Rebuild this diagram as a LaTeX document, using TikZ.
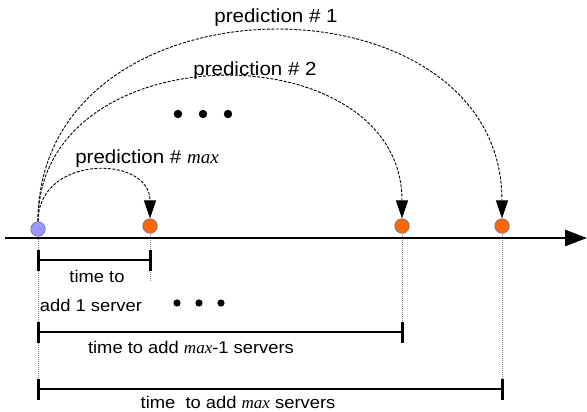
\documentclass[tikz,border=0pt]{standalone}
\usepackage{fontspec}
\setmainfont{Liberation Sans}[FakeStretch=1.08]
\newfontfamily\timesfont{Liberation Serif}
\usepackage{xcolor}
\usepackage{tikz}
\usetikzlibrary{arrows.meta}

\definecolor{nowblue}{HTML}{9999FF}
\definecolor{predorange}{HTML}{FF6600}
\definecolor{dotedge}{HTML}{5577AA}

\newcommand{\mx}{{\timesfont\itshape max}}

\begin{document}
\begin{tikzpicture}[
  x=1pt, y=-1pt,
  instant/.style={circle, draw=dotedge, line width=0.6pt, inner sep=0pt, minimum size=14.5pt},
  pred/.style={line width=0.9pt, dash pattern=on 3pt off 1.5pt, -{Triangle[length=18pt, width=12pt]}},
  axis/.style={line width=2.8pt, -{Triangle[length=22pt, width=16pt]}},
  guide/.style={gray, line width=0.6pt, dash pattern=on 1pt off 1pt},
  span/.style={line width=2pt},
  tick/.style={line width=3pt},
  lbl/.style={font=\fontsize{19}{22}\selectfont, anchor=base},
  slbl/.style={font=\fontsize{17}{20}\selectfont, anchor=base}
]
\useasboundingbox (0,0) rectangle (587,412);

% time axis
\coordinate (tl) at (5,238);
\coordinate (tr) at (587,238);

% guides under the time points
\draw[guide] (38,229) -- (38,400);
\draw[guide] (150,226) -- (150,282);
\draw[guide] (402,226) -- (402,342);
\draw[guide] (502,226) -- (502,392);

\draw[axis] (tl) -- (tr);

% now and the predicted instants
\node[instant, fill=nowblue] (now) at (38,229) {};
\node[instant, fill=predorange] (pmax) at (150,226) {};
\node[instant, fill=predorange] (p2) at (402,226) {};
\node[instant, fill=predorange] (p1) at (502,226) {};

% predictions
\draw[pred] (now.north) .. controls +(0,-253) and +(0,-250) .. (p1.north);
\draw[pred] (now.north) .. controls +(0,-192) and +(0,-188) .. (p2.north);
\draw[pred] (now.north) .. controls +(0,-67) and +(0,-64) .. (pmax.north);

\node[lbl] (l1) at (276,23) {prediction \# 1};
\node[lbl] (l2) at (255,76) {prediction \# 2};
\node[lbl] (lmax) at (147,163) {prediction \# \mx};

\foreach \x in {178,203,228}
  \fill (\x,114) circle (4.2);

% time to add servers
\foreach \y/\p in {260/pmax, 332/p2, 389/p1} {
  \draw[span] (now |- 0,\y) -- (\p |- 0,\y);
  \draw[tick] (now |- 0,\y-10.5) -- (now |- 0,\y+10.5);
  \draw[tick] (\p |- 0,\y-10.5) -- (\p |- 0,\y+10.5);
}

\node[slbl] (t1a) at (97,282) {time to};
\node[slbl] (t1b) at (91,311) {add 1 server};
\foreach \x in {177,199,221}
  \fill (\x,303) circle (3.6);
\node[slbl] (t2) at (191,353) {time to add \mx-1 servers};
\node[slbl] (t3) at (238,408) {time~ to add \mx{} servers};
\end{tikzpicture}
\end{document}
